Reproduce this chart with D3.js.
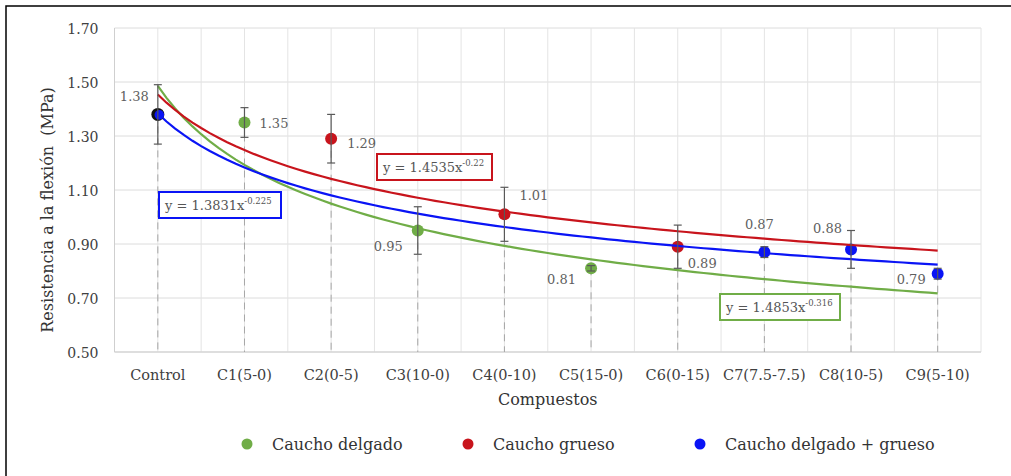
<!DOCTYPE html>
<html lang="es">
<head>
<meta charset="UTF-8">
<title>Resistencia a la flexión</title>
<script src="https://cdn.jsdelivr.net/npm/d3@7"></script>
<style>
    body{margin:0;background:#fff}
    svg{display:block;font-family:"DejaVu Serif",serif}
</style>
</head>
<body>
<svg width="1011" height="476"></svg>
<script>
// categorias del eje x
var categorias = ["Control","C1(5-0)","C2(0-5)","C3(10-0)","C4(0-10)","C5(15-0)","C6(0-15)","C7(7.5-7.5)","C8(10-5)","C9(5-10)"];
var yTicks = [0.50,0.70,0.90,1.10,1.30,1.50,1.70];

// control (compartido por las tres series)
var controlVal = 1.38, controlErr = 0.11;

// caucho delgado
var delgadoCat = ["C1(5-0)","C3(10-0)","C5(15-0)"];
var delgadoVal = [1.35,0.95,0.81];
var delgadoErr = [0.055,0.088,0.01];
// caucho grueso
var gruesoCat = ["C2(0-5)","C4(0-10)","C6(0-15)"];
var gruesoVal = [1.29,1.01,0.89];
var gruesoErr = [0.09,0.10,0.08];
// caucho delgado + grueso
var mixtoCat = ["C7(7.5-7.5)","C8(10-5)","C9(5-10)"];
var mixtoVal = [0.87,0.88,0.79];
var mixtoErr = [0.02,0.07,0.02];

// lineas de tendencia potencial y = a*x^b
var tendNombres = ["delgado","grueso","mixto"];
var tendA = [1.4853,1.4535,1.3831];
var tendB = [-0.316,-0.22,-0.225];

var colores = {delgado:"#70ad47", grueso:"#c8141c", mixto:"#0a14f5"};

var padding = {top:28, right:30, bottom:124, left:114.5};
var width = 1011, height = 476;

var svg = d3.select('svg');
svg.append('rect').attr('width',width).attr('height',height).attr('fill','#fff');
// marco exterior
svg.append('rect').attr('x',6).attr('y',6).attr('width',1020).attr('height',490)
    .attr('fill','none').attr('stroke','#000').attr('stroke-width',1.5);

var x = d3.scaleBand().domain(categorias).range([padding.left,width-padding.right]);
var y = d3.scaleLinear().domain([0.5,1.7]).range([height-padding.bottom,padding.top]);
var bw = x.bandwidth();
function cx(c){ return x(c)+bw/2; }
// posicion numerica (1..10) para las tendencias
var xn = d3.scaleLinear().domain([1,categorias.length]).range([cx(categorias[0]),cx(categorias[categorias.length-1])]);

var g = svg.append('g');

// rejilla horizontal
g.selectAll('.hgrid').data(yTicks).enter().append('line')
    .attr('x1',padding.left).attr('x2',width-padding.right)
    .attr('y1',function(d){return y(d);}).attr('y2',function(d){return y(d);})
    .attr('stroke','#dcdcdc').attr('stroke-width',1);

// rejilla vertical (bordes y centros de categoria)
var vlines = [];
categorias.forEach(function(c){ vlines.push(x(c)); vlines.push(cx(c)); });
vlines.push(width-padding.right);
g.selectAll('.vgrid').data(vlines).enter().append('line')
    .attr('x1',function(d){return d;}).attr('x2',function(d){return d;})
    .attr('y1',y(1.7)).attr('y2',y(0.5))
    .attr('stroke','#e4e4e4').attr('stroke-width',1);
g.append('line').attr('x1',padding.left).attr('x2',padding.left).attr('y1',y(1.7)).attr('y2',y(0.5)).attr('stroke','#cfcfcf');
g.append('line').attr('x1',padding.left).attr('x2',width-padding.right).attr('y1',y(0.5)).attr('y2',y(0.5)).attr('stroke','#cfcfcf');

// ejes
var yAxis = d3.axisLeft(y).tickValues(yTicks).tickFormat(d3.format('.2f')).tickSize(0).tickPadding(16);
var ya = svg.append('g').attr('transform','translate('+padding.left+',1)').call(yAxis);
ya.select('.domain').remove();
ya.selectAll('text').attr('font-family','DejaVu Serif').attr('font-size',14).attr('fill','#404040');

var xAxis = d3.axisBottom(x).tickSize(0).tickPadding(18);
var xa = svg.append('g').attr('transform','translate(0,'+y(0.5)+')').call(xAxis);
xa.select('.domain').remove();
xa.selectAll('text').attr('font-family','DejaVu Serif').attr('font-size',14.5).attr('fill','#404040');

svg.append('text').attr('x',(padding.left+width-padding.right)/2).attr('y',405)
    .attr('text-anchor','middle').attr('font-size',16).attr('fill','#333').text('Compuestos');
svg.append('text').attr('transform','translate(53,'+(y(1.1)+20)+') rotate(-90)')
    .attr('text-anchor','middle').attr('font-size',16).attr('fill','#333')
    .style('white-space','pre').text('Resistencia a la flexión  (MPa)');

// puntos agrupados
var puntos = [];
function agregar(cats, vals, errs, serie){
    cats.forEach(function(c,i){ puntos.push({cat:c, val:vals[i], err:errs[i], serie:serie}); });
}
agregar(delgadoCat,delgadoVal,delgadoErr,'delgado');
agregar(gruesoCat,gruesoVal,gruesoErr,'grueso');
agregar(mixtoCat,mixtoVal,mixtoErr,'mixto');
var todos = [{cat:'Control', val:controlVal, err:controlErr, serie:'control'}].concat(puntos);

// lineas de caida
g.selectAll('.drop').data(todos).enter().append('line')
    .attr('x1',function(d){return cx(d.cat);}).attr('x2',function(d){return cx(d.cat);})
    .attr('y1',function(d){return y(d.val);}).attr('y2',y(0.5))
    .attr('stroke','#a6a6a6').attr('stroke-width',1).attr('stroke-dasharray','7,5');

// marcadores
g.selectAll('.pt').data(puntos).enter().append('circle')
    .attr('cx',function(d){return cx(d.cat);}).attr('cy',function(d){return y(d.val);})
    .attr('r',6).attr('fill',function(d){return colores[d.serie];});

// tendencias
var xs = d3.range(1,categorias.length+0.001,0.1);
tendNombres.forEach(function(n,i){
    var line = d3.line().x(function(t){return xn(t);}).y(function(t){return y(tendA[i]*Math.pow(t,tendB[i]));});
    g.append('path').attr('d',line(xs)).attr('fill','none')
        .attr('stroke',colores[n]).attr('stroke-width',2.2);
});

// control
g.append('circle').attr('cx',cx('Control')).attr('cy',y(controlVal)).attr('r',6.5).attr('fill','#111');
g.append('circle').attr('cx',cx('Control')+1.5).attr('cy',y(controlVal)+0.5).attr('r',4.8).attr('fill',colores.mixto);

// barras de error
var eb = g.selectAll('.err').data(todos).enter().append('g').attr('stroke','#595959').attr('stroke-width',1.2);
eb.append('line').attr('x1',function(d){return cx(d.cat);}).attr('x2',function(d){return cx(d.cat);})
    .attr('y1',function(d){return y(d.val+d.err);}).attr('y2',function(d){return y(d.val-d.err);});
eb.append('line').attr('x1',function(d){return cx(d.cat)-4;}).attr('x2',function(d){return cx(d.cat)+4;})
    .attr('y1',function(d){return y(d.val+d.err);}).attr('y2',function(d){return y(d.val+d.err);});
eb.append('line').attr('x1',function(d){return cx(d.cat)-4;}).attr('x2',function(d){return cx(d.cat)+4;})
    .attr('y1',function(d){return y(d.val-d.err);}).attr('y2',function(d){return y(d.val-d.err);});

// etiquetas de datos
var desplaz = {
    "Control":[-9,-13,'end'], "C1(5-0)":[15,5,'start'], "C2(0-5)":[16,9,'start'],
    "C3(10-0)":[-15,20,'end'], "C4(0-10)":[15,-14,'start'], "C5(15-0)":[-15,16,'end'],
    "C6(0-15)":[10,21,'start'], "C7(7.5-7.5)":[-5,-23,'middle'], "C8(10-5)":[-9,-16,'end'],
    "C9(5-10)":[-12,10,'end']
};
g.selectAll('.lbl').data(todos).enter().append('text')
    .attr('x',function(d){return cx(d.cat)+desplaz[d.cat][0];})
    .attr('y',function(d){return y(d.val)+desplaz[d.cat][1];})
    .attr('text-anchor',function(d){return desplaz[d.cat][2];})
    .attr('font-size',13).attr('fill','#5f5f5f')
    .text(function(d){return d3.format('.2f')(d.val);});

// cajas de ecuaciones
var cajas = [
    {serie:'mixto', x:159, y:192, w:122, h:26},
    {serie:'grueso', x:377, y:154, w:115, h:26},
    {serie:'delgado', x:720, y:294, w:120, h:26}
];
cajas.forEach(function(c){
    var i = tendNombres.indexOf(c.serie);
    var bg = svg.append('g');
    bg.append('rect').attr('x',c.x).attr('y',c.y).attr('width',c.w).attr('height',c.h)
        .attr('fill','#fff').attr('stroke',colores[c.serie]).attr('stroke-width',2);
    var t = bg.append('text').attr('x',c.x+6).attr('y',c.y+18).attr('font-size',13).attr('fill','#555');
    t.append('tspan').text('y = '+tendA[i]+'x');
    t.append('tspan').attr('dy',-6).attr('font-size',8.5).text(String(tendB[i]));
});

// leyenda
var leyenda = [
    {serie:'delgado', nombre:'Caucho delgado', x:247},
    {serie:'grueso', nombre:'Caucho grueso', x:468},
    {serie:'mixto', nombre:'Caucho delgado + grueso', x:700}
];
var lg = svg.selectAll('.leg').data(leyenda).enter().append('g');
lg.append('circle').attr('cx',function(d){return d.x;}).attr('cy',444).attr('r',5.5)
    .attr('fill',function(d){return colores[d.serie];});
lg.append('text').attr('x',function(d){return d.x+25;}).attr('y',450)
    .attr('font-size',16).attr('fill','#333').text(function(d){return d.nombre;});
</script>
</body>
</html>
